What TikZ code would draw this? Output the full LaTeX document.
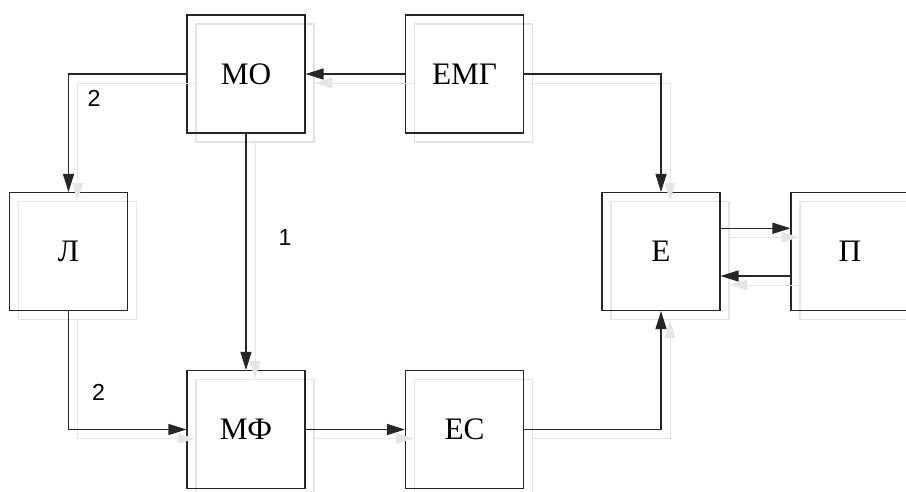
\documentclass[tikz,border=0pt]{standalone}
\usepackage{fontspec}
\setmainfont{Liberation Serif}
\newfontfamily\labelfont{Liberation Sans}
\usetikzlibrary{arrows.meta}

\begin{document}
\begin{tikzpicture}[
    x=0.02cm, y=-0.02cm,
    box/.style={rectangle, draw=black!85, line width=0.6pt, minimum width=2.36cm, minimum height=2.36cm, inner sep=0pt, align=center,
        font=\fontsize{17.8}{20}\selectfont,
        preaction={draw=black!10, transform canvas={shift={(0.18cm,-0.18cm)}}}},
    arrow/.style={-{Triangle[length=0.36cm, width=0.22cm]}, draw=black!85, line width=0.6pt,
        preaction={draw=black!10, -{Triangle[length=0.36cm, width=0.22cm]}, transform canvas={shift={(0.18cm,-0.18cm)}}}},
    num/.style={font=\labelfont\fontsize{13.2}{15}\selectfont}
]
    \useasboundingbox (0,0) rectangle (906,491);

    % Blocks
    \node[box] (mo) at (246,74) {МО};
    \node[box] (emg) at (464.5,74) {ЕМГ};
    \node[box] (l) at (68.5,251.5) {Л};
    \node[box] (e) at (661,251.5) {Е};
    \node[box] (p) at (850,251.5) {П};
    \node[box] (mf) at (246,429.5) {МФ};
    \node[box] (ec) at (464.5,429.5) {ЕС};

    % Labels
    \node[num] (n2a) at (94,98) {2};
    \node[num] (n1) at (285,238) {1};
    \node[num] (n2b) at (98.5,392) {2};

    % Arrows
    \draw[arrow] (emg.west) -- (mo.east);
    \draw[arrow] (emg.east) -| (e.north);
    \draw[arrow] (mo.west) -| (l.north);
    \draw[arrow] (mo.south) -- (mf.north);
    \draw[arrow] (l.south) |- (mf.west);
    \draw[arrow] (mf.east) -- (ec.west);
    \draw[arrow] (ec.east) -| (e.south);
    \draw[arrow] ([yshift=0.465cm]e.east) -- ([yshift=0.465cm]p.west);
    \draw[arrow] ([yshift=-0.49cm]p.west) -- ([yshift=-0.49cm]e.east);
\end{tikzpicture}
\end{document}
